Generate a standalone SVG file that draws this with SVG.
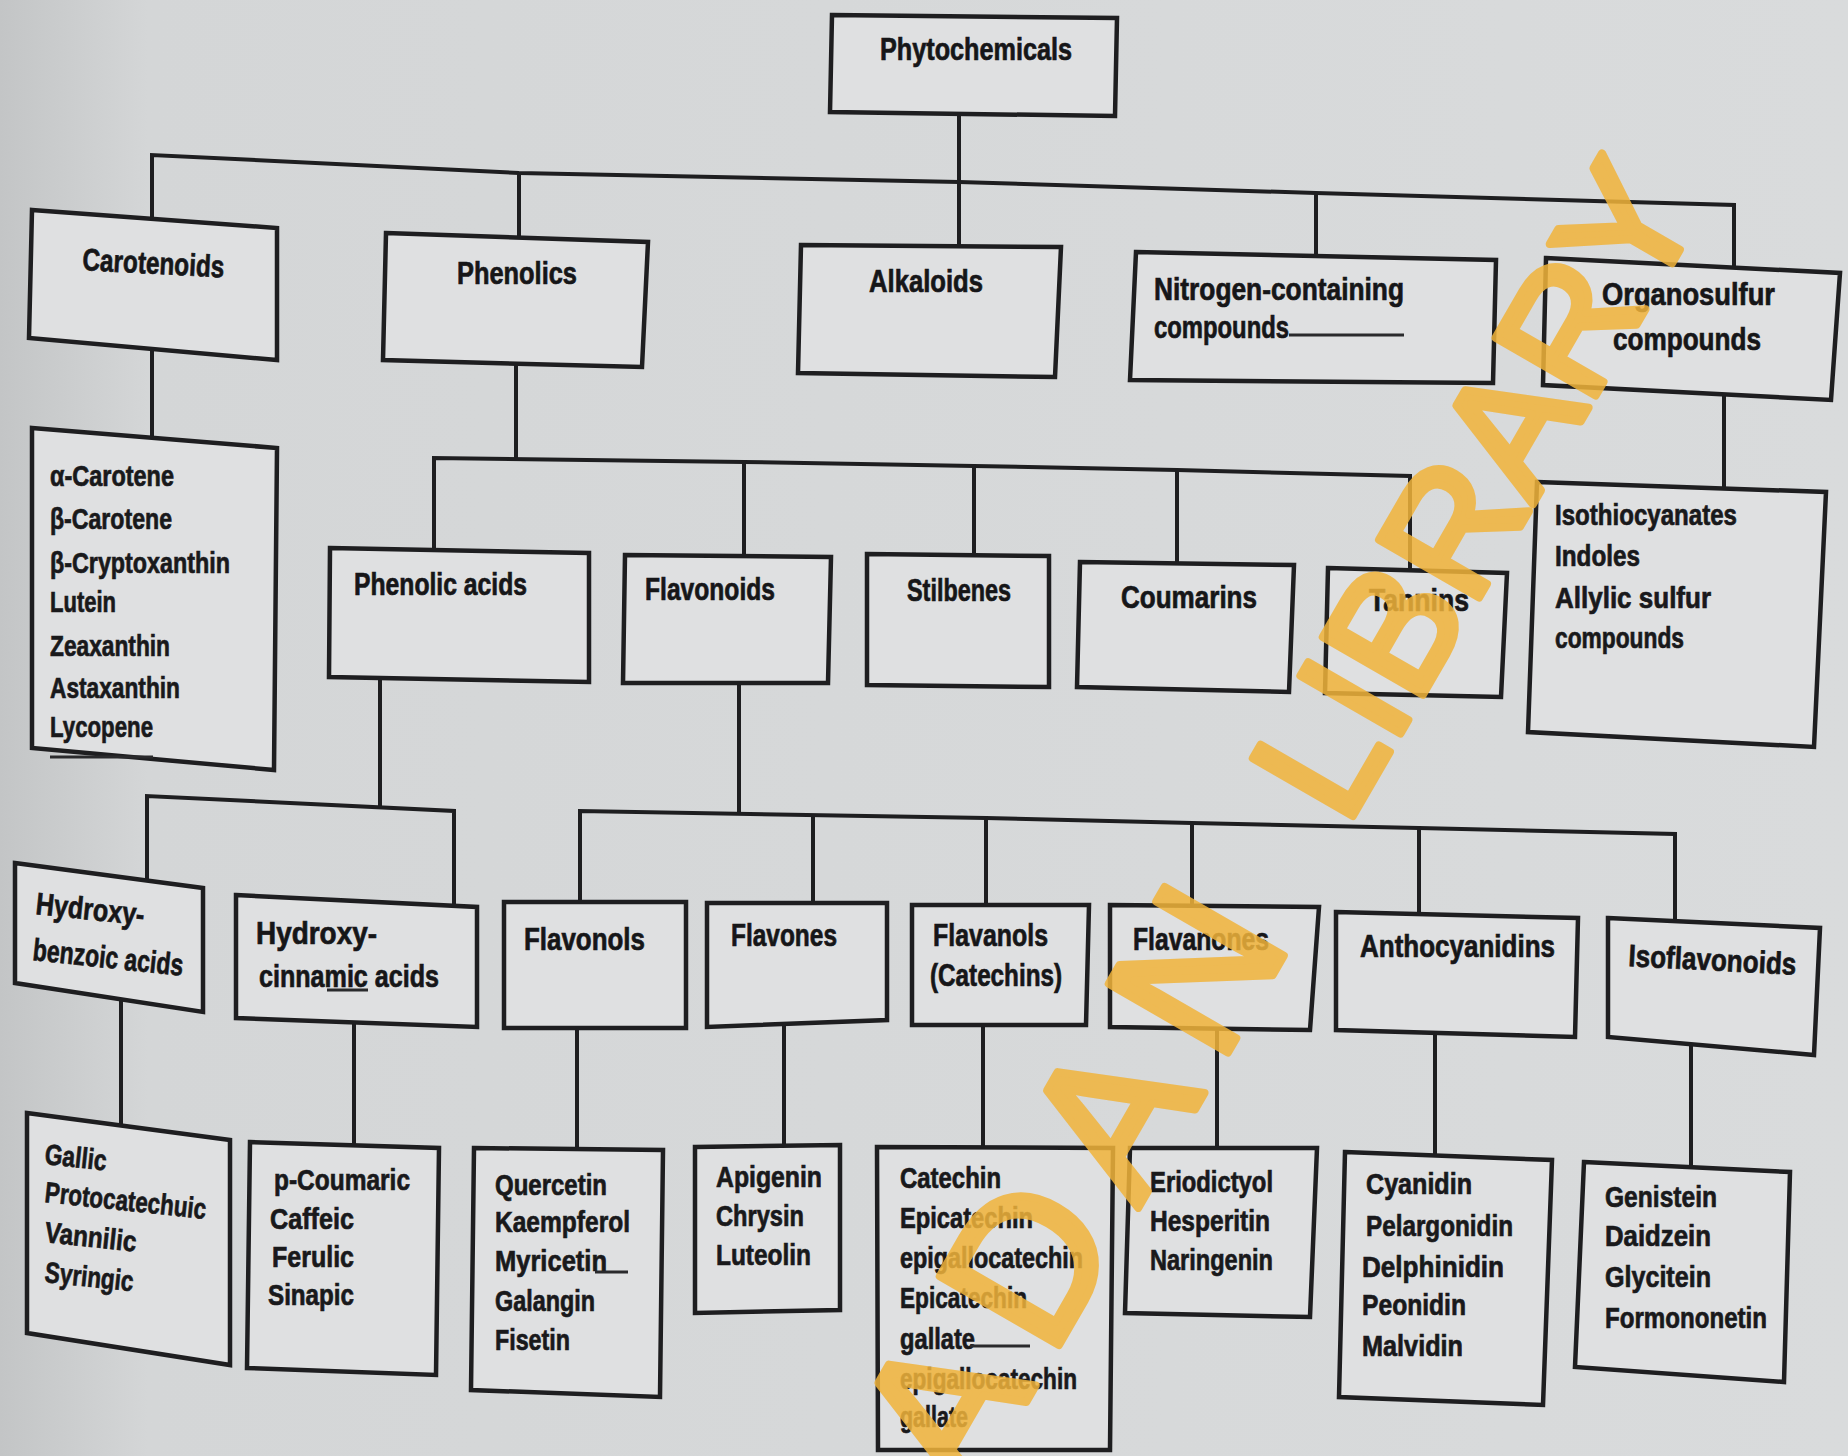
<svg xmlns="http://www.w3.org/2000/svg" width="1848" height="1456" viewBox="0 0 1848 1456">
  <defs>
    <linearGradient id="paper" x1="0" y1="0" x2="1" y2="0">
      <stop offset="0" stop-color="#c3c5c6"/>
      <stop offset="0.08" stop-color="#d4d6d7"/>
      <stop offset="1" stop-color="#d9dbdc"/>
    </linearGradient>
    <style>
      .box { fill: #dfe0e1; stroke: #1e1e20; stroke-width: 4.5; stroke-linejoin: miter; }
      .wire { fill: none; stroke: #1e1e20; stroke-width: 4; }
      .rule { stroke: #2a2a2c; stroke-width: 3; }
      .t { font-family: "Liberation Sans", Arial, sans-serif; font-weight: 700; font-size: 31px; fill: #161618; stroke: #161618; stroke-width: 0.7; }
      .s { font-family: "Liberation Sans", Arial, sans-serif; font-weight: 700; font-size: 29px; fill: #19191b; stroke: #19191b; stroke-width: 0.7; }
      .wm { font-family: "Liberation Sans", Arial, sans-serif; font-size: 168px; fill: #f1b43b; stroke: #f1b43b; stroke-width: 8; stroke-linejoin: round; opacity: 0.85; }
    </style>
  </defs>

  <rect width="1848" height="1456" fill="url(#paper)"/>

  <!-- connectors -->
  <g id="connectors">
    <line class="wire" x1="959" y1="114" x2="959" y2="246"/>
    <polyline class="wire" points="152,219 152,155 519,173 959,182 1316,193 1734,205 1734,268"/>
    <line class="wire" x1="519" y1="173" x2="519" y2="238"/>
    <line class="wire" x1="1316" y1="193" x2="1316" y2="256"/>
    <line class="wire" x1="152" y1="349" x2="152" y2="439"/>
    <line class="wire" x1="516" y1="364" x2="516" y2="459"/>
    <polyline class="wire" points="434,549 434,458 744,462 974,466 1177,470 1410,476 1410,571"/>
    <line class="wire" x1="744" y1="462" x2="744" y2="556"/>
    <line class="wire" x1="974" y1="466" x2="974" y2="555"/>
    <line class="wire" x1="1177" y1="470" x2="1177" y2="564"/>
    <line class="wire" x1="1724" y1="394" x2="1724" y2="488"/>
    <line class="wire" x1="380" y1="680" x2="380" y2="807"/>
    <polyline class="wire" points="147,885 147,796 454,811 454,904"/>
    <line class="wire" x1="739" y1="683" x2="739" y2="815"/>
    <polyline class="wire" points="580,903 580,811 986,818 1192,823 1419,828 1675,834 1675,924"/>
    <line class="wire" x1="813" y1="815" x2="813" y2="903"/>
    <line class="wire" x1="986" y1="818" x2="986" y2="905"/>
    <line class="wire" x1="1192" y1="823" x2="1192" y2="907"/>
    <line class="wire" x1="1419" y1="828" x2="1419" y2="916"/>
    <line class="wire" x1="121" y1="999" x2="121" y2="1128"/>
    <line class="wire" x1="354" y1="1022" x2="354" y2="1144"/>
    <line class="wire" x1="577" y1="1028" x2="577" y2="1149"/>
    <line class="wire" x1="784" y1="1023" x2="784" y2="1146"/>
    <line class="wire" x1="983" y1="1025" x2="983" y2="1148"/>
    <line class="wire" x1="1217" y1="1029" x2="1217" y2="1148"/>
    <line class="wire" x1="1435" y1="1034" x2="1435" y2="1156"/>
    <line class="wire" x1="1691" y1="1046" x2="1691" y2="1167"/>
  </g>

  <!-- level 1 -->
  <g id="phytochemicals">
    <polygon class="box" points="832,15 1117,18 1115,116 830,112"/>
    <text class="t" x="880" y="60" textLength="192" lengthAdjust="spacingAndGlyphs">Phytochemicals</text>
  </g>
  <g id="carotenoids">
    <polygon class="box" points="32,210 277,228 277,360 29,338"/>
    <text class="t" x="82" y="270" textLength="142" lengthAdjust="spacingAndGlyphs" transform="rotate(3 82 270)">Carotenoids</text>
  </g>
  <g id="phenolics">
    <polygon class="box" points="386,233 648,242 642,367 383,360"/>
    <text class="t" x="457" y="284" textLength="120" lengthAdjust="spacingAndGlyphs">Phenolics</text>
  </g>
  <g id="alkaloids">
    <polygon class="box" points="801,245 1061,247 1055,377 798,373"/>
    <text class="t" x="869" y="292" textLength="114" lengthAdjust="spacingAndGlyphs">Alkaloids</text>
  </g>
  <g id="nitrogen">
    <polygon class="box" points="1136,252 1496,260 1493,383 1130,380"/>
    <text class="t" x="1154" y="300" textLength="250" lengthAdjust="spacingAndGlyphs">Nitrogen-containing</text>
    <text class="t" x="1154" y="338" textLength="135" lengthAdjust="spacingAndGlyphs">compounds</text>
    <line class="rule" x1="1289" y1="335" x2="1404" y2="335"/>
  </g>
  <g id="organosulfur">
    <polygon class="box" points="1546,258 1840,273 1831,400 1543,385"/>
    <text class="t" x="1602" y="305" textLength="173" lengthAdjust="spacingAndGlyphs">Organosulfur</text>
    <text class="t" x="1613" y="350" textLength="148" lengthAdjust="spacingAndGlyphs">compounds</text>
  </g>

  <!-- level 2 -->
  <g id="carotenoid-list">
    <polygon class="box" points="32,428 277,448 274,770 32,748"/>
    <text class="s" x="50" y="486" textLength="124" lengthAdjust="spacingAndGlyphs">α-Carotene</text>
    <text class="s" x="50" y="529" textLength="122" lengthAdjust="spacingAndGlyphs">β-Carotene</text>
    <text class="s" x="50" y="573" textLength="180" lengthAdjust="spacingAndGlyphs">β-Cryptoxanthin</text>
    <text class="s" x="50" y="612" textLength="66" lengthAdjust="spacingAndGlyphs">Lutein</text>
    <text class="s" x="50" y="656" textLength="120" lengthAdjust="spacingAndGlyphs">Zeaxanthin</text>
    <text class="s" x="50" y="698" textLength="130" lengthAdjust="spacingAndGlyphs">Astaxanthin</text>
    <text class="s" x="50" y="737" textLength="103" lengthAdjust="spacingAndGlyphs">Lycopene</text>
    <line class="rule" x1="50" y1="757" x2="153" y2="757"/>
  </g>
  <g id="phenolic-acids">
    <polygon class="box" points="330,548 589,553 589,682 329,677"/>
    <text class="t" x="354" y="595" textLength="173" lengthAdjust="spacingAndGlyphs">Phenolic acids</text>
  </g>
  <g id="flavonoids">
    <polygon class="box" points="625,555 831,557 828,683 623,683"/>
    <text class="t" x="645" y="600" textLength="130" lengthAdjust="spacingAndGlyphs">Flavonoids</text>
  </g>
  <g id="stilbenes">
    <polygon class="box" points="867,554 1049,556 1049,687 867,685"/>
    <text class="t" x="907" y="601" textLength="104" lengthAdjust="spacingAndGlyphs">Stilbenes</text>
  </g>
  <g id="coumarins">
    <polygon class="box" points="1080,562 1294,565 1289,692 1077,687"/>
    <text class="t" x="1121" y="608" textLength="136" lengthAdjust="spacingAndGlyphs">Coumarins</text>
  </g>
  <g id="tannins">
    <polygon class="box" points="1328,568 1507,573 1501,697 1325,693"/>
    <text class="t" x="1369" y="611" textLength="100" lengthAdjust="spacingAndGlyphs">Tannins</text>
  </g>
  <g id="organosulfur-list">
    <polygon class="box" points="1537,482 1826,492 1814,747 1528,732"/>
    <text class="s" x="1555" y="525" textLength="182" lengthAdjust="spacingAndGlyphs">Isothiocyanates</text>
    <text class="s" x="1555" y="566" textLength="85" lengthAdjust="spacingAndGlyphs">Indoles</text>
    <text class="s" x="1555" y="608" textLength="156" lengthAdjust="spacingAndGlyphs">Allylic sulfur</text>
    <text class="s" x="1555" y="648" textLength="129" lengthAdjust="spacingAndGlyphs">compounds</text>
  </g>

  <!-- level 3 -->
  <g id="hydroxybenzoic">
    <polygon class="box" points="15,863 203,888 203,1012 15,983"/>
    <text class="t" x="35" y="914" textLength="109" lengthAdjust="spacingAndGlyphs" transform="rotate(6 35 914)">Hydroxy-</text>
    <text class="t" x="32" y="960" textLength="151" lengthAdjust="spacingAndGlyphs" transform="rotate(6 32 960)">benzoic acids</text>
  </g>
  <g id="hydroxycinnamic">
    <polygon class="box" points="236,895 477,907 477,1027 236,1018"/>
    <text class="t" x="256" y="944" textLength="121" lengthAdjust="spacingAndGlyphs">Hydroxy-</text>
    <text class="t" x="259" y="987" textLength="180" lengthAdjust="spacingAndGlyphs">cinnamic acids</text>
    <line class="rule" x1="327" y1="990" x2="368" y2="990"/>
  </g>
  <g id="flavonols">
    <polygon class="box" points="504,902 686,902 686,1028 504,1028"/>
    <text class="t" x="524" y="950" textLength="121" lengthAdjust="spacingAndGlyphs">Flavonols</text>
  </g>
  <g id="flavones">
    <polygon class="box" points="707,903 887,903 887,1020 707,1027"/>
    <text class="t" x="731" y="946" textLength="106" lengthAdjust="spacingAndGlyphs">Flavones</text>
  </g>
  <g id="flavanols">
    <polygon class="box" points="912,905 1089,905 1086,1025 912,1025"/>
    <text class="t" x="933" y="946" textLength="115" lengthAdjust="spacingAndGlyphs">Flavanols</text>
    <text class="t" x="930" y="986" textLength="132" lengthAdjust="spacingAndGlyphs">(Catechins)</text>
  </g>
  <g id="flavanones">
    <polygon class="box" points="1110,905 1319,907 1310,1030 1110,1027"/>
    <text class="t" x="1133" y="950" textLength="136" lengthAdjust="spacingAndGlyphs">Flavanones</text>
  </g>
  <g id="anthocyanidins">
    <polygon class="box" points="1336,912 1578,918 1575,1037 1336,1030"/>
    <text class="t" x="1360" y="957" textLength="195" lengthAdjust="spacingAndGlyphs">Anthocyanidins</text>
  </g>
  <g id="isoflavonoids">
    <polygon class="box" points="1608,918 1820,928 1814,1055 1608,1037"/>
    <text class="t" x="1628" y="966" textLength="168" lengthAdjust="spacingAndGlyphs" transform="rotate(3 1628 966)">Isoflavonoids</text>
  </g>

  <!-- level 4 -->
  <g id="hydroxybenzoic-list">
    <polygon class="box" points="27,1113 230,1140 230,1365 27,1333"/>
    <text class="s" x="44" y="1164" textLength="62" lengthAdjust="spacingAndGlyphs" transform="rotate(6 44 1164)">Gallic</text>
    <text class="s" x="44" y="1202" textLength="162" lengthAdjust="spacingAndGlyphs" transform="rotate(6 44 1202)">Protocatechuic</text>
    <text class="s" x="44" y="1242" textLength="92" lengthAdjust="spacingAndGlyphs" transform="rotate(6 44 1242)">Vannilic</text>
    <text class="s" x="44" y="1282" textLength="89" lengthAdjust="spacingAndGlyphs" transform="rotate(6 44 1282)">Syringic</text>
  </g>
  <g id="hydroxycinnamic-list">
    <polygon class="box" points="250,1142 439,1148 436,1375 247,1368"/>
    <text class="s" x="274" y="1190" textLength="136" lengthAdjust="spacingAndGlyphs">p-Coumaric</text>
    <text class="s" x="270" y="1229" textLength="84" lengthAdjust="spacingAndGlyphs">Caffeic</text>
    <text class="s" x="272" y="1267" textLength="82" lengthAdjust="spacingAndGlyphs">Ferulic</text>
    <text class="s" x="268" y="1305" textLength="86" lengthAdjust="spacingAndGlyphs">Sinapic</text>
  </g>
  <g id="flavonol-list">
    <polygon class="box" points="474,1148 663,1150 660,1397 471,1390"/>
    <text class="s" x="495" y="1195" textLength="112" lengthAdjust="spacingAndGlyphs">Quercetin</text>
    <text class="s" x="495" y="1232" textLength="135" lengthAdjust="spacingAndGlyphs">Kaempferol</text>
    <text class="s" x="495" y="1271" textLength="112" lengthAdjust="spacingAndGlyphs">Myricetin</text>
    <line class="rule" x1="595" y1="1272" x2="628" y2="1272"/>
    <text class="s" x="495" y="1311" textLength="100" lengthAdjust="spacingAndGlyphs">Galangin</text>
    <text class="s" x="495" y="1350" textLength="75" lengthAdjust="spacingAndGlyphs">Fisetin</text>
  </g>
  <g id="flavone-list">
    <polygon class="box" points="695,1147 840,1145 840,1310 695,1313"/>
    <text class="s" x="716" y="1187" textLength="106" lengthAdjust="spacingAndGlyphs">Apigenin</text>
    <text class="s" x="716" y="1226" textLength="88" lengthAdjust="spacingAndGlyphs">Chrysin</text>
    <text class="s" x="716" y="1265" textLength="95" lengthAdjust="spacingAndGlyphs">Luteolin</text>
  </g>
  <g id="flavanol-list">
    <polygon class="box" points="877,1147 1113,1148 1110,1450 878,1450"/>
    <text class="s" x="900" y="1188" textLength="101" lengthAdjust="spacingAndGlyphs">Catechin</text>
    <text class="s" x="900" y="1228" textLength="133" lengthAdjust="spacingAndGlyphs">Epicatechin</text>
    <text class="s" x="900" y="1268" textLength="183" lengthAdjust="spacingAndGlyphs">epigallocatechin</text>
    <text class="s" x="900" y="1308" textLength="127" lengthAdjust="spacingAndGlyphs">Epicatechin</text>
    <text class="s" x="900" y="1349" textLength="75" lengthAdjust="spacingAndGlyphs">gallate</text>
    <line class="rule" x1="970" y1="1346" x2="1030" y2="1346"/>
    <text class="s" x="900" y="1389" textLength="177" lengthAdjust="spacingAndGlyphs">epigallocatechin</text>
    <text class="s" x="900" y="1427" textLength="68" lengthAdjust="spacingAndGlyphs">gallate</text>
  </g>
  <g id="flavanone-list">
    <polygon class="box" points="1130,1148 1317,1148 1310,1317 1125,1313"/>
    <text class="s" x="1150" y="1192" textLength="123" lengthAdjust="spacingAndGlyphs">Eriodictyol</text>
    <text class="s" x="1150" y="1231" textLength="120" lengthAdjust="spacingAndGlyphs">Hesperitin</text>
    <text class="s" x="1150" y="1270" textLength="123" lengthAdjust="spacingAndGlyphs">Naringenin</text>
  </g>
  <g id="anthocyanidin-list">
    <polygon class="box" points="1345,1152 1552,1160 1543,1405 1339,1397"/>
    <text class="s" x="1366" y="1194" textLength="106" lengthAdjust="spacingAndGlyphs">Cyanidin</text>
    <text class="s" x="1366" y="1236" textLength="147" lengthAdjust="spacingAndGlyphs">Pelargonidin</text>
    <text class="s" x="1362" y="1277" textLength="142" lengthAdjust="spacingAndGlyphs">Delphinidin</text>
    <text class="s" x="1362" y="1315" textLength="104" lengthAdjust="spacingAndGlyphs">Peonidin</text>
    <text class="s" x="1362" y="1356" textLength="101" lengthAdjust="spacingAndGlyphs">Malvidin</text>
  </g>
  <g id="isoflavonoid-list">
    <polygon class="box" points="1584,1162 1790,1172 1784,1382 1575,1367"/>
    <text class="s" x="1605" y="1207" textLength="112" lengthAdjust="spacingAndGlyphs">Genistein</text>
    <text class="s" x="1605" y="1246" textLength="106" lengthAdjust="spacingAndGlyphs">Daidzein</text>
    <text class="s" x="1605" y="1287" textLength="106" lengthAdjust="spacingAndGlyphs">Glycitein</text>
    <text class="s" x="1605" y="1328" textLength="162" lengthAdjust="spacingAndGlyphs">Formononetin</text>
  </g>

  <!-- library stamp across the sheet -->
  <g id="stamp" transform="translate(1704,208) rotate(-60)">
    <text class="wm" x="0" y="0" text-anchor="end">LIBRARY</text>
    <text class="wm" x="-1736" y="10" style="font-size:200px; letter-spacing:30px">IBADAN</text>
  </g>
</svg>
